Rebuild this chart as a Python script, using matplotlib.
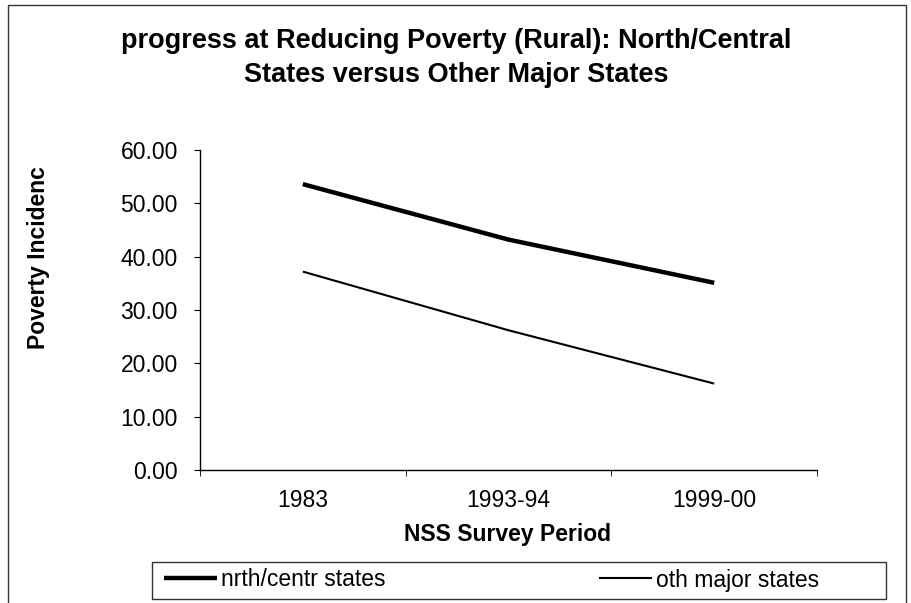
import matplotlib.pyplot as plt
from matplotlib.patches import Rectangle
import numpy as np

plt.rcParams['font.family'] = ['Liberation Sans', 'DejaVu Sans']

periods = ['1983', '1993-94', '1999-00']
nrth_centr = [53.6, 43.2, 35.1]
oth_major = [37.2, 26.2, 16.2]
yticks = [0, 10, 20, 30, 40, 50, 60]

W, H = 912, 603
fig = plt.figure(figsize=(W / 100, H / 100), dpi=100)

# outer chart border
fig.patches.append(Rectangle((8 / W, -0.05), 898 / W, 1.05 - 5 / H,
                             transform=fig.transFigure, fill=False,
                             edgecolor='#333333', linewidth=1))

ax = fig.add_axes([200 / W, 1 - 470 / H, 617 / W, 320 / H])
x = np.arange(len(periods))
l1, = ax.plot(x, nrth_centr, color='black', linewidth=3.2, solid_capstyle='butt')
l2, = ax.plot(x, oth_major, color='black', linewidth=1.5, solid_capstyle='butt')

ax.set_xlim(-0.5, len(periods) - 0.5)
ax.set_ylim(0, 60)
ax.set_yticks(yticks)
ax.set_yticklabels(['%.2f' % v for v in yticks])
ax.set_xticks(x)
ax.set_xticklabels(periods)
ax.set_xticks(np.arange(-0.5, len(periods)), minor=True)
ax.tick_params(axis='x', which='major', length=0, pad=14, labelsize=16.5)
ax.tick_params(axis='x', which='minor', length=4, direction='out')
ax.tick_params(axis='y', length=4, direction='out', pad=12, labelsize=16.5)
for s in ['top', 'right']:
    ax.spines[s].set_visible(False)
for s in ['left', 'bottom']:
    ax.spines[s].set_linewidth(1)

fig.text(456 / W, 1 - 28 / H,
         'progress at Reducing Poverty (Rural): North/Central\nStates versus Other Major States',
         ha='center', va='top', fontsize=19.5, fontweight='bold', linespacing=1.38)
fig.text(39 / W, 1 - 258 / H, 'Poverty Incidenc', rotation=90,
         ha='center', va='center', fontsize=16.5, fontweight='bold')
fig.text(508 / W, 1 - 535 / H, 'NSS Survey Period',
         ha='center', va='center', fontsize=16.5, fontweight='bold')

# legend box
fig.patches.append(Rectangle((152 / W, 1 - 599 / H), 734 / W, 37 / H,
                             transform=fig.transFigure, fill=False,
                             edgecolor='#333333', linewidth=1))
fig.legend([l1, l2], ['nrth/centr states', 'oth major states'],
           loc='center left', bbox_to_anchor=(155 / W, 1 - 580 / H),
           ncol=2, frameon=False, fontsize=16.5, handlelength=2.3,
           handletextpad=0.2, columnspacing=9.3, borderaxespad=0)

fig.savefig('out.png', dpi=100)
